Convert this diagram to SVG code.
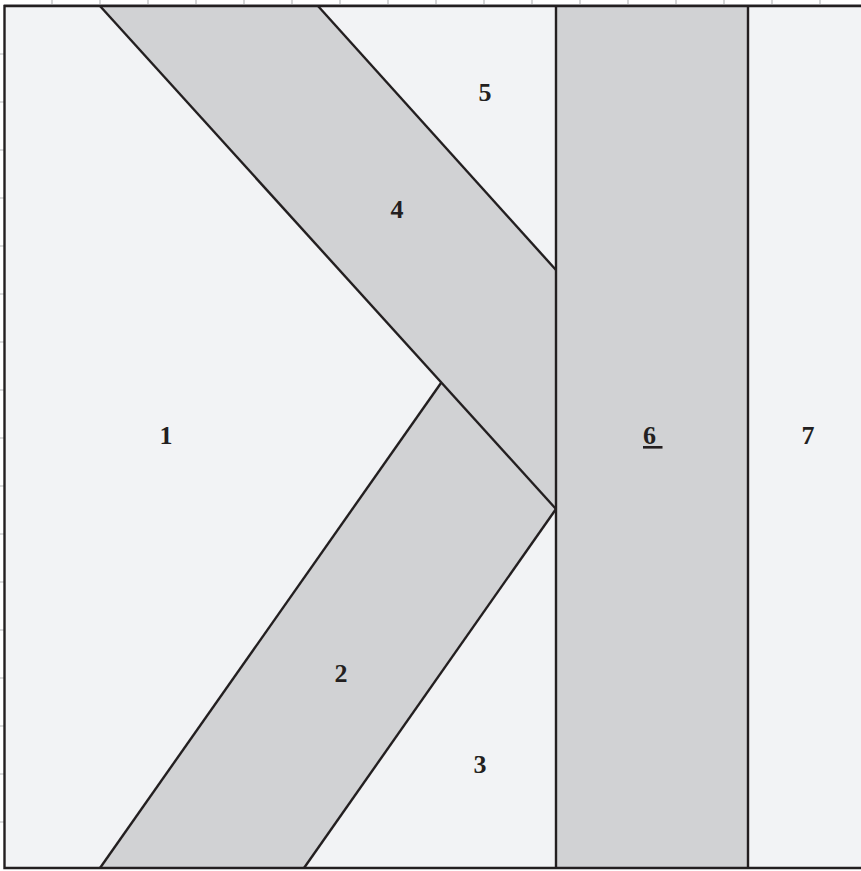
<svg xmlns="http://www.w3.org/2000/svg" width="861" height="871" viewBox="0 0 861 871">
<style>
.light{fill:#f2f3f5}
.gray{fill:#d1d2d4}
.edge{fill:none;stroke:#231f20;stroke-width:2.4;stroke-linejoin:miter}
.tick{stroke:#b8b9bb;stroke-width:1.2}
.lbl{font-family:"Liberation Serif","Times New Roman",serif;font-weight:bold;font-size:26px;fill:#231f20;text-anchor:middle}
</style>
<rect x="0" y="0" width="861" height="871" fill="#ffffff"/>
<g id="ticks">
<path class="tick" d="M52,0V5M100,0V5M148,0V5M196,0V5M244,0V5M292,0V5M340,0V5M388,0V5M436,0V5M484,0V5M532,0V5M580,0V5M628,0V5M676,0V5M724,0V5M772,0V5M820,0V5"/>
<path class="tick" d="M0,54H4M0,102H4M0,150H4M0,198H4M0,246H4M0,294H4M0,342H4M0,390H4M0,438H4M0,486H4M0,534H4M0,582H4M0,630H4M0,678H4M0,726H4M0,774H4M0,822H4"/>
<line class="tick" x1="4" y1="4.5" x2="861" y2="4.5"/>
</g>
<g id="node-1"><rect class="light" x="4" y="6" width="552" height="862"/><text class="lbl" x="166" y="444">1</text></g>
<g id="node-7"><rect class="light" x="748" y="6" width="113" height="862"/><text class="lbl" x="808" y="444">7</text></g>
<g id="node-6"><rect class="gray" x="556" y="6" width="192" height="862"/><text class="lbl" x="643" y="444" style="text-anchor:start"><tspan text-decoration="underline">6&#160;</tspan></text></g>
<g id="node-4"><polygon class="gray" points="100,6 318,6 556,270 556,509"/><text class="lbl" x="397" y="218">4</text></g>
<g id="node-2"><polygon class="gray" points="441,383 556,509 304,868 100,868"/><text class="lbl" x="341" y="682">2</text></g>
<g id="node-3"><text class="lbl" x="480" y="773">3</text></g>
<g id="node-5"><text class="lbl" x="485" y="101">5</text></g>
<g id="connectors">
<line class="edge" x1="100" y1="6" x2="556" y2="509"/>
<line class="edge" x1="318" y1="6" x2="556" y2="270"/>
<line class="edge" x1="441" y1="383" x2="100" y2="868"/>
<line class="edge" x1="556" y1="509" x2="304" y2="868"/>
<line class="edge" x1="556" y1="6" x2="556" y2="868"/>
<line class="edge" x1="748" y1="6" x2="748" y2="868"/>
<path class="edge" d="M861,6H4.5V868H861" stroke-width="2.8"/>
</g>
</svg>
